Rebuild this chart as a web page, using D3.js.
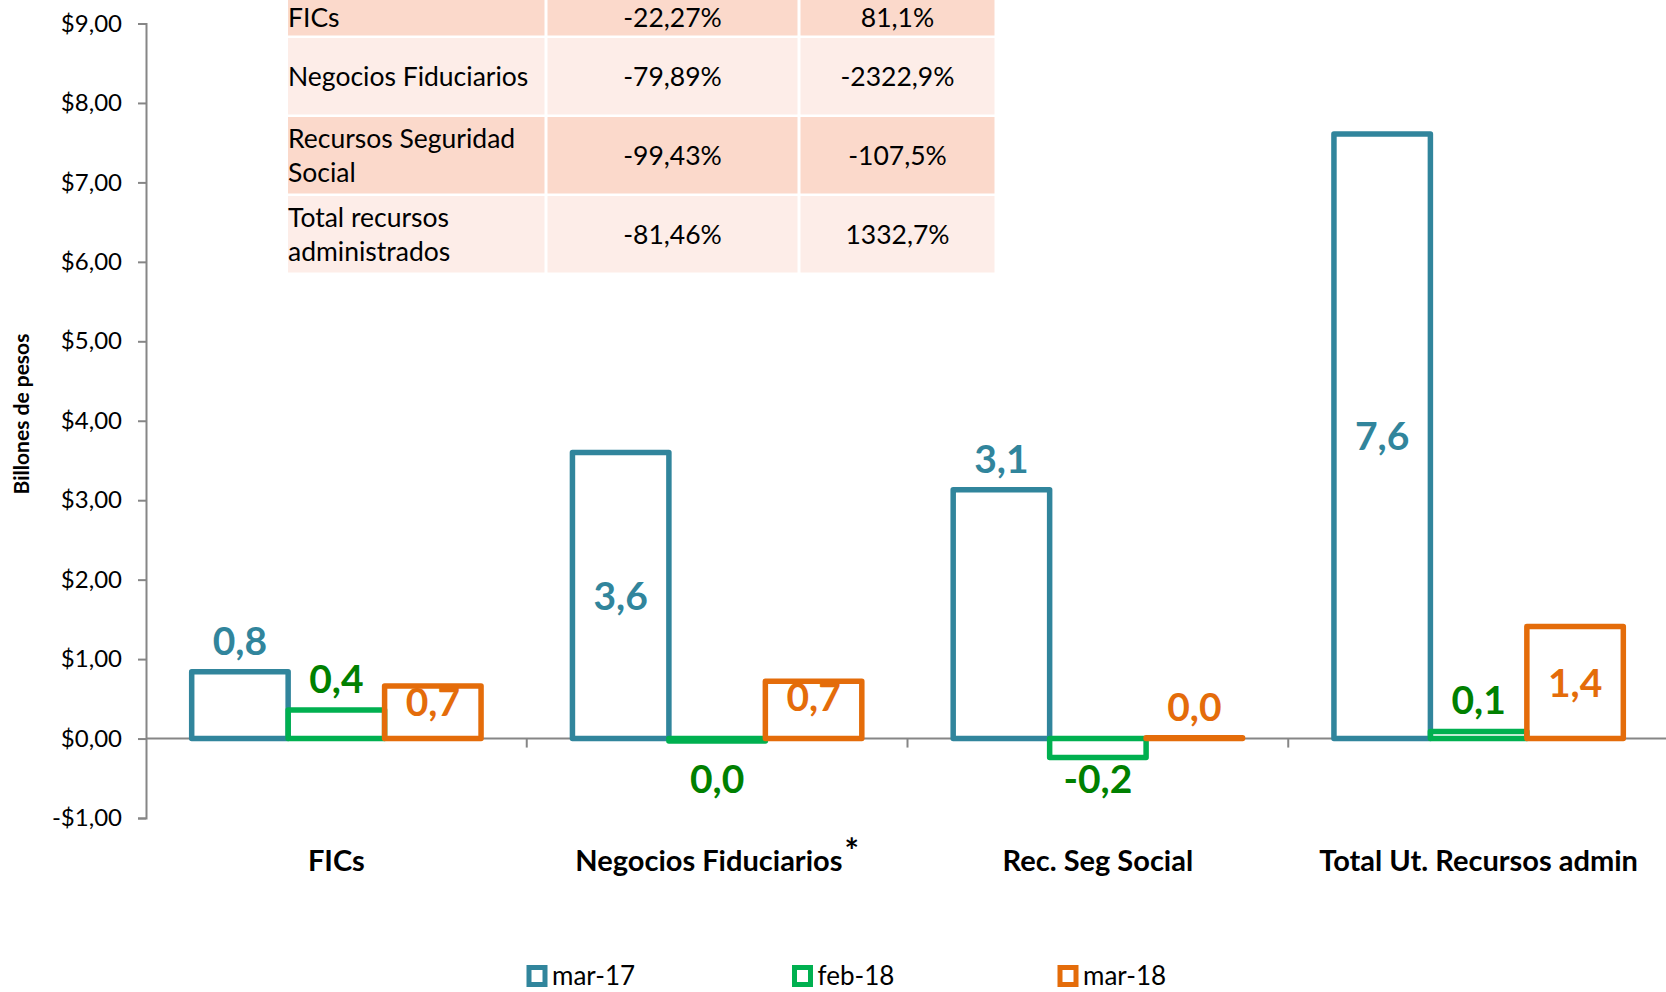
<!DOCTYPE html>
<html>
<head>
<meta charset="utf-8">
<script src="https://cdn.jsdelivr.net/npm/d3@7"></script>
<style>
  body { margin: 0; background: #fff; }
  svg { display: block; font-family: Lato, "Open Sans", sans-serif; }
</style>
</head>
<body>
<svg id="chart" width="1666" height="992"></svg>
<script>
// data
var categories = ["FICs", "Negocios Fiduciarios", "Rec. Seg Social", "Total Ut. Recursos admin"];
var seriesNames = ["mar-17", "feb-18", "mar-18"];
var mar17 = [0.84, 3.60, 3.13, 7.61];
var feb18 = [0.36, -0.03, -0.24, 0.09];
var mar18 = [0.66, 0.72, 0.01, 1.41];
var yTicks = [-1, 0, 1, 2, 3, 4, 5, 6, 7, 8, 9];

// where each value label sits relative to its bar
var labelPlace = [
  ["above", "center", "above", "center"],
  ["above", "below", "below", "above"],
  ["inside", "inside", "above", "center"]
];

// little variation table in the top left
var tableLabels = [["FICs"], ["Negocios Fiduciarios"], ["Recursos Seguridad", "Social"], ["Total recursos", "administrados"]];
var tableVarA = ["-22,27%", "-79,89%", "-99,43%", "-81,46%"];
var tableVarB = ["81,1%", "-2322,9%", "-107,5%", "1332,7%"];

var strokeColors = ["#31859C", "#00B050", "#E46C0A"];
var labelColors = ["#31859C", "#008000", "#E46C0A"];
var axisGray = "#868686";

var svg = d3.select("#chart");
var values = [mar17, feb18, mar18];

var y = d3.scaleLinear().domain([-1, 9]).range([818, 23.5]);

var x0 = d3.scaleBand()
    .domain(categories)
    .range([146, 1669]);

var bw = x0.bandwidth();
var x1 = d3.scaleBand()
    .domain(seriesNames)
    .range([bw * 0.12, bw - bw * 0.12]);

var fmtTick = function(v) {
  var s = "$" + Math.abs(v).toFixed(2).replace(".", ",");
  return v < 0 ? "-" + s : s;
};
var fmtLabel = function(v) {
  if (Math.abs(v) < 0.05) return "0,0";
  return v.toFixed(1).replace(".", ",");
};

// table
var rowHeights = [38, 79, 79, 79];
var rowTops = [0];
rowHeights.forEach(function(h, i) { rowTops.push(rowTops[i] + h); });
var colEdges = [288, 546, 799, 996];
var rowFill = ["#FBD9CB", "#FDEDE8", "#FBD9CB", "#FDEDE8"];

var table = svg.append("g").attr("class", "table");
var rows = table.selectAll(".row")
    .data(tableLabels)
  .enter().append("g")
    .attr("class", "row");

rows.each(function(lines, i) {
  var g = d3.select(this);
  var top = rowTops[i], h = rowHeights[i] - 2.5, mid = top + h / 2;
  for (var c = 0; c < 3; c++) {
    g.append("rect")
      .attr("x", colEdges[c] + (c ? 1.5 : 0))
      .attr("y", top)
      .attr("width", colEdges[c + 1] - colEdges[c] - (c ? 1.5 : 0) - 1.5)
      .attr("height", h)
      .attr("fill", rowFill[i]);
  }
  var lh = 34;
  lines.forEach(function(line, k) {
    g.append("text")
      .attr("x", colEdges[0])
      .attr("y", mid - (lines.length - 1) * lh / 2 + k * lh + 9.5)
      .attr("font-size", 26.5)
      .attr("fill", "#000")
      .text(line);
  });
  [tableVarA[i], tableVarB[i]].forEach(function(t, c) {
    g.append("text")
      .attr("x", (colEdges[c + 1] + colEdges[c + 2]) / 2)
      .attr("y", mid + 9.5)
      .attr("text-anchor", "middle")
      .attr("font-size", 26.5)
      .attr("fill", "#000")
      .text(t);
  });
});

// y axis
var yAxis = svg.append("g")
    .attr("transform", "translate(146,0)")
    .call(d3.axisLeft(y).tickValues(yTicks).tickSize(8).tickPadding(16).tickFormat(fmtTick));
yAxis.select(".domain").attr("stroke", axisGray).attr("stroke-width", 2);
yAxis.selectAll(".tick line").attr("stroke", axisGray).attr("stroke-width", 2);
yAxis.selectAll(".tick text")
    .attr("font-size", 24)
    .attr("font-family", "Lato, 'Open Sans', sans-serif")
    .attr("fill", "#000");

svg.append("text")
    .attr("transform", "translate(29,414) rotate(-90)")
    .attr("text-anchor", "middle")
    .attr("font-size", 21)
    .attr("font-weight", "bold")
    .text("Billones de pesos");

// zero line and category separators
svg.append("line")
    .attr("x1", 146).attr("x2", 1666)
    .attr("y1", y(0)).attr("y2", y(0))
    .attr("stroke", axisGray).attr("stroke-width", 2);

svg.selectAll(".sep")
    .data(categories.slice(1))
  .enter().append("line")
    .attr("class", "sep")
    .attr("x1", function(d) { return x0(d); })
    .attr("x2", function(d) { return x0(d); })
    .attr("y1", y(0)).attr("y2", y(0) + 9)
    .attr("stroke", axisGray).attr("stroke-width", 2);

// bars
var groups = svg.selectAll(".cat")
    .data(categories)
  .enter().append("g")
    .attr("class", "cat")
    .attr("transform", function(d) { return "translate(" + x0(d) + ",0)"; });

groups.each(function(cat, ci) {
  var g = d3.select(this);
  seriesNames.forEach(function(s, si) {
    var v = values[si][ci];
    var top = y(Math.max(0, v)), bot = y(Math.min(0, v));
    g.append("rect")
      .attr("x", x1(s))
      .attr("y", top)
      .attr("width", x1.bandwidth())
      .attr("height", Math.max(0.5, bot - top))
      .attr("fill", "none")
      .attr("stroke", strokeColors[si])
      .attr("stroke-width", 5.5)
      .attr("stroke-linejoin", "round");
  });
});

groups.each(function(cat, ci) {
  var g = d3.select(this);
  seriesNames.forEach(function(s, si) {
    var v = values[si][ci];
    var top = y(Math.max(0, v)), bot = y(Math.min(0, v));
    var place = labelPlace[si][ci];
    var ty;
    if (place === "above") ty = top - 17;
    else if (place === "center") ty = (top + bot) / 2 + 14;
    else if (place === "inside") ty = top + 30;
    else ty = y(0) + 54;
    g.append("text")
      .attr("x", x1(s) + x1.bandwidth() / 2)
      .attr("y", ty)
      .attr("text-anchor", "middle")
      .attr("font-size", 39)
      .attr("font-weight", "bold")
      .attr("fill", labelColors[si])
      .text(fmtLabel(v));
  });
});

// category labels
var catText = svg.selectAll(".catlabel")
    .data(categories)
  .enter().append("text")
    .attr("class", "catlabel")
    .attr("x", function(d) { return x0(d) + bw / 2; })
    .attr("y", 871)
    .attr("text-anchor", "middle")
    .attr("font-size", 29)
    .attr("font-weight", "bold")
    .attr("fill", "#000");
catText.append("tspan").text(function(d) { return d; });
catText.filter(function(d) { return d === "Negocios Fiduciarios"; })
  .append("tspan")
    .attr("dy", -8)
    .attr("dx", 2)
    .attr("font-size", 34)
    .text("*");

// legend
var lx = d3.scalePoint().domain(seriesNames).range([537, 1068]);
var legend = svg.selectAll(".legend")
    .data(seriesNames)
  .enter().append("g")
    .attr("class", "legend")
    .attr("transform", function(d) { return "translate(" + lx(d) + ",976)"; });

legend.append("rect")
    .attr("x", -8).attr("y", -8.5)
    .attr("width", 16).attr("height", 17)
    .attr("fill", "#fff")
    .attr("stroke", function(d, i) { return strokeColors[i]; })
    .attr("stroke-width", 5);

legend.append("text")
    .attr("x", 15)
    .attr("y", 9)
    .attr("font-size", 26)
    .attr("fill", "#000")
    .text(function(d) { return d; });
</script>
</body>
</html>
